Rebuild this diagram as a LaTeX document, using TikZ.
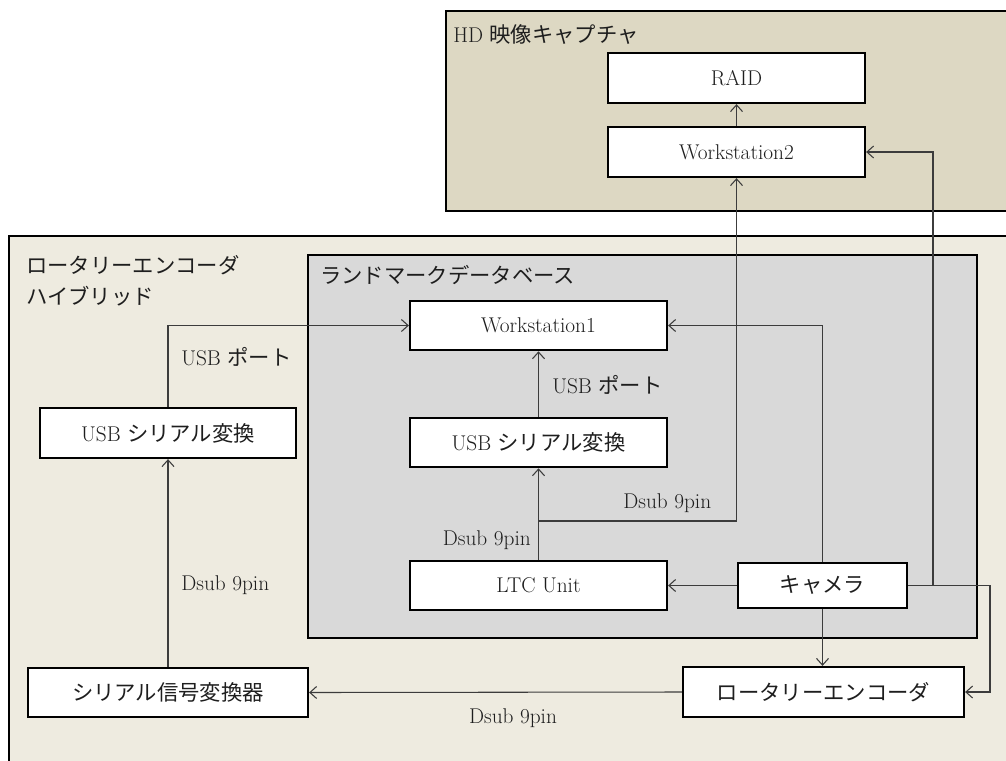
\documentclass[tikz,border=0pt]{standalone}
\usepackage{fontspec}
\newfontfamily\jp{Noto Sans CJK JP}
\usetikzlibrary{arrows.meta}
\definecolor{hdfill}{HTML}{DDD8C3}
\definecolor{outerfill}{HTML}{EEEBE0}
\definecolor{dbfill}{HTML}{D9D9D9}
\definecolor{wirecol}{HTML}{3C3C3C}
\definecolor{txtcol}{HTML}{1E1E1E}
\begin{document}
\begin{tikzpicture}[x=0.75pt,y=-0.75pt,
  frame/.style={draw=black, line width=1.4pt, anchor=north west, inner sep=0pt},
  unit/.style={draw=black, fill=white, line width=1.7pt, inner sep=0pt, text=txtcol,
    font=\fontsize{16}{19}\selectfont},
  lbl/.style={inner sep=0pt, text=txtcol, font=\fontsize{16}{19}\selectfont},
  wire/.style={draw=wirecol, line width=0.8pt, -{Straight Barb[length=5pt,width=9pt]}},
  plain/.style={draw=wirecol, line width=0.8pt}]
\useasboundingbox (0,0) rectangle (1006,760);
\clip (0,0) rectangle (1006,760);
% frames
\node[frame, fill=hdfill, minimum width=431.25pt, minimum height=150pt] (hd) at (445,10) {};
\node[frame, fill=outerfill, minimum width=759pt, minimum height=405pt] (outer) at (8,235) {};
\node[frame, fill=dbfill, minimum width=501.75pt, minimum height=287.25pt] (db) at (307,254) {};
% frame labels
\node[lbl, anchor=west] (hdlbl) at (453,35) {HD {\jp 映像キャプチャ}};
\node[lbl, anchor=west] (outlbla) at (26,265) {\jp ロータリーエンコーダ};
\node[lbl, anchor=west] (outlblb) at (26,296) {\jp ハイブリッド};
\node[lbl, anchor=west] (dblbl) at (320,275) {\jp ランドマークデータベース};
% units
\node[unit, minimum width=192.75pt, minimum height=37.5pt] (raid) at (736.5,78) {RAID};
\node[unit, minimum width=192.75pt, minimum height=37.5pt] (ws2) at (736.5,152) {Workstation2};
\node[unit, minimum width=192.75pt, minimum height=37pt] (ws1) at (538.5,325.5) {Workstation1};
\node[unit, minimum width=192.75pt, minimum height=37pt] (usb2) at (538.5,442.5) {USB {\jp シリアル変換}};
\node[unit, minimum width=192.75pt, minimum height=37pt] (ltc) at (538.5,585.5) {LTC Unit};
\node[unit, minimum width=126.75pt, minimum height=33.75pt] (cam) at (822.5,585.5) {\jp キャメラ};
\node[unit, minimum width=192pt, minimum height=37.5pt] (usb1) at (168,433) {USB {\jp シリアル変換}};
\node[unit, minimum width=210pt, minimum height=36.75pt] (ser) at (168,692.5) {\jp シリアル信号変換器};
\node[unit, minimum width=210.75pt, minimum height=37.5pt] (rot) at (823.5,692) {\jp ロータリーエンコーダ};
% connectors
\coordinate (jn) at (538.5,521);
\coordinate (cr1) at (933,585.5);
\coordinate (cr2) at (990,585.5);
\draw[wire] (ws2.north) -- (raid.south);
\draw[wire] (ltc.north) -- (usb2.south);
\draw[wire] (jn) -| (ws2.south);
\draw[wire] (usb2.north) -- (ws1.south);
\draw[wire] (usb1.north) |- (ws1.west);
\draw[wire] (cam.north) |- (ws1.east);
\draw[wire] (cam.east) -- (cr1) |- (ws2.east);
\draw[wire] (cam.east) -- (cr2) |- (rot.east);
\draw[wire] (cam.west) -- (ltc.east);
\draw[wire] (cam.south) -- (cam.south |- rot.north);
\draw[wire] (rot.west) -- (ser.east);
\draw[wire] (ser.north) -- (usb1.south);
% connector labels
\node[lbl, anchor=west] (lp1) at (181,357) {USB {\jp ポート}};
\node[lbl, anchor=west] (lp2) at (552,385) {USB {\jp ポート}};
\node[lbl, anchor=west] (ld1) at (181,585) {Dsub 9pin};
\node[lbl, anchor=east] (ld2) at (531,540) {Dsub 9pin};
\node[lbl, anchor=west] (ld3) at (623,503) {Dsub 9pin};
\node[lbl] (ld4) at (513,718) {Dsub 9pin};
\end{tikzpicture}
\end{document}
